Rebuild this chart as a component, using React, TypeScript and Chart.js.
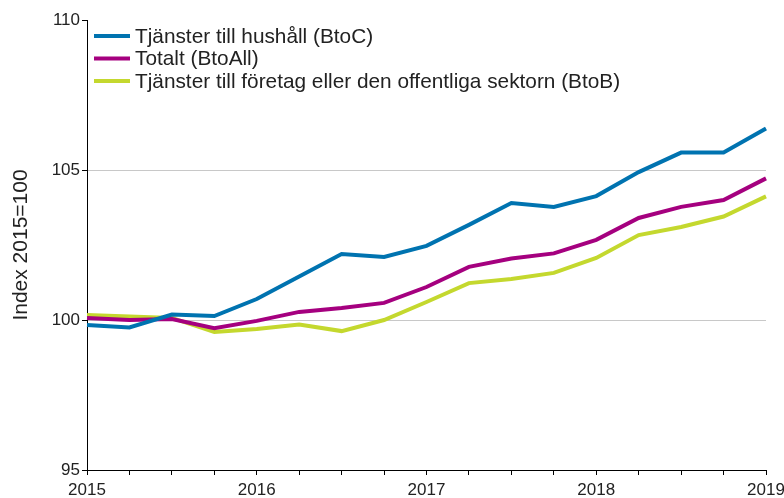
import React, { useEffect, useRef } from "react";
import { Chart, registerables } from "chart.js";

Chart.register(...registerables);

const quarters = [
  "2015Q1", "2015Q2", "2015Q3", "2015Q4",
  "2016Q1", "2016Q2", "2016Q3", "2016Q4",
  "2017Q1", "2017Q2", "2017Q3", "2017Q4",
  "2018Q1", "2018Q2", "2018Q3", "2018Q4",
  "2019Q1",
];

const btoC = [99.83, 99.75, 100.18, 100.13, 100.7, 101.45, 102.2, 102.1, 102.47, 103.17, 103.9, 103.77, 104.13, 104.93, 105.58, 105.58, 106.38];
const btoAll = [100.07, 100.0, 100.03, 99.73, 99.97, 100.27, 100.4, 100.57, 101.1, 101.77, 102.05, 102.22, 102.67, 103.4, 103.77, 104.0, 104.72];
const btoB = [100.17, 100.12, 100.07, 99.6, 99.7, 99.85, 99.63, 100.0, 100.6, 101.23, 101.37, 101.57, 102.07, 102.83, 103.1, 103.45, 104.12];

const seriesLabels = [
  "Tjänster till hushåll (BtoC)",
  "Totalt (BtoAll)",
  "Tjänster till företag eller den offentliga sektorn (BtoB)",
];
const seriesColors = ["#0073b0", "#a5007f", "#c4d82e"];

const yTicks = [95, 100, 105, 110];
const yTitle = "Index 2015=100";

const FONT = "'Liberation Sans', Arial, sans-serif";

const legendPlugin = {
  id: "customLegend",
  afterDraw(chart: any) {
    const ctx = chart.ctx;
    const rows = [36, 58.5, 81];
    ctx.save();
    chart.data.datasets.forEach((ds: any, i: number) => {
      const y = rows[i];
      ctx.strokeStyle = ds.borderColor;
      ctx.lineWidth = 4;
      ctx.beginPath();
      ctx.moveTo(94, y);
      ctx.lineTo(130, y);
      ctx.stroke();
      ctx.fillStyle = "#222";
      ctx.font = `20.8px ${FONT}`;
      ctx.textBaseline = "middle";
      ctx.textAlign = "left";
      ctx.fillText(ds.label, 135, y + 1);
    });
    ctx.restore();
  },
};

export default function App() {
  const ref = useRef<HTMLCanvasElement | null>(null);

  useEffect(() => {
    document.body.style.margin = "0";
    const canvas = ref.current;
    if (!canvas) return;
    const sets = [btoC, btoAll, btoB];
    const chart = new Chart(canvas, {
      type: "line",
      data: {
        labels: quarters,
        datasets: sets.map((d, i) => ({
          label: seriesLabels[i],
          data: d,
          borderColor: seriesColors[i],
          backgroundColor: seriesColors[i],
          borderWidth: 4,
          pointRadius: 0,
          tension: 0,
          fill: false,
        })),
      },
      options: {
        responsive: false,
        animation: false,
        maintainAspectRatio: false,
        layout: { padding: { top: 20, right: 18, bottom: 0, left: 0 } },
        plugins: {
          legend: { display: false },
          tooltip: { enabled: false },
        },
        scales: {
          x: {
            type: "category",
            offset: false,
            afterFit(scale: any) {
              scale.height = 28;
              scale.paddingLeft = 0;
              scale.paddingRight = 0;
            },
            grid: {
              drawOnChartArea: false,
              drawTicks: true,
              tickLength: 5,
              tickColor: "#000",
              color: "#000",
            },
            border: { display: true, color: "#000", width: 1 },
            ticks: {
              autoSkip: false,
              maxRotation: 0,
              padding: 5,
              color: "#222",
              font: { family: FONT, size: 17 },
              callback(this: any, value: any) {
                const lab = quarters[value as number];
                return lab.endsWith("Q1") ? lab.slice(0, 4) : "";
              },
            },
          },
          y: {
            min: 95,
            max: 110,
            afterFit(scale: any) {
              scale.width = 87;
              scale.paddingTop = 0;
              scale.paddingBottom = 0;
            },
            afterBuildTicks(scale: any) {
              scale.ticks = yTicks.map((v) => ({ value: v }));
            },
            grid: {
              drawTicks: true,
              tickLength: 5,
              tickColor: "#000",
              color: (c: any) =>
                c.tick && (c.tick.value === 100 || c.tick.value === 105) ? "#c8c8c8" : "rgba(0,0,0,0)",
            },
            border: { display: true, color: "#000", width: 1 },
            ticks: {
              padding: 2,
              color: "#222",
              font: { family: FONT, size: 17 },
            },
            title: {
              display: true,
              text: yTitle,
              color: "#222",
              font: { family: FONT, size: 21 },
              padding: { top: 9, bottom: 0 },
            },
          },
        },
      },
      plugins: [legendPlugin],
    });
    return () => chart.destroy();
  }, []);

  return (
    <div style={{ width: 784, height: 498 }}>
      <canvas ref={ref} width={784} height={498} style={{ display: "block" }} />
    </div>
  );
}
